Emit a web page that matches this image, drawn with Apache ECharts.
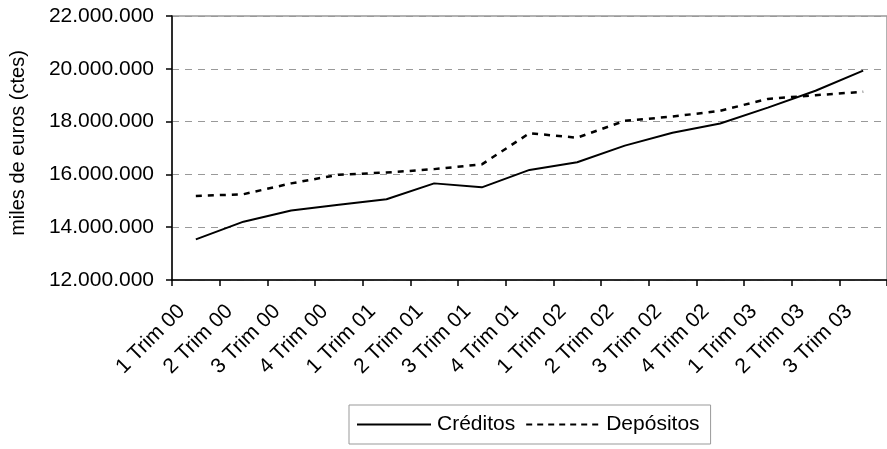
<!DOCTYPE html>
<html>
<head>
<meta charset="utf-8">
<script src="https://cdn.jsdelivr.net/npm/echarts@6/dist/echarts.min.js"></script>
<style>
html,body{margin:0;padding:0;background:#fff;}
#c{width:887px;height:449px;}
</style>
</head>
<body>
<div id="c"></div>
<script>
var categories = ['1 Trim 00','2 Trim 00','3 Trim 00','4 Trim 00','1 Trim 01','2 Trim 01','3 Trim 01','4 Trim 01','1 Trim 02','2 Trim 02','3 Trim 02','4 Trim 02','1 Trim 03','2 Trim 03','3 Trim 03'];
var creditos = [13540000,14210000,14630000,14850000,15060000,15660000,15510000,16170000,16460000,17090000,17580000,17930000,18530000,19170000,19930000];
var depositos = [15180000,15250000,15660000,15990000,16070000,16200000,16380000,17560000,17390000,18030000,18190000,18410000,18860000,19000000,19130000];
var yMin = 12000000, yMax = 22000000, yStep = 2000000;
var yAxisName = 'miles de euros (ctes)';
var seriesNames = ['Créditos','Depósitos'];

var FONT = 'Liberation Sans, Arial, sans-serif';
function fmt(v){ return String(Math.round(v)).replace(/\B(?=(\d{3})+(?!\d))/g, '.'); }

// legend icons (pure styling): solid bar and dashed bar
var ICON_W = 74;
var solidIcon = 'path://M0,0h' + ICON_W + 'v2h-' + ICON_W + 'z';
var dashPath = '';
for (var x = 0; x + 6 <= ICON_W + 0.1; x += 11) { dashPath += 'M' + x + ',0h6v2h-6z'; }
dashPath += 'M' + ICON_W + ',0v2';
var dashIcon = 'path://' + dashPath;

var chart = echarts.init(document.getElementById('c'), null, {renderer:'canvas'});
chart.setOption({
  animation:false,
  backgroundColor:'#fff',
  textStyle:{fontFamily:FONT},
  grid:{left:169, top:16, width:726, height:264, show:true, borderColor:'#999', borderWidth:1.5, backgroundColor:'transparent'},
  legend:{
    left:349, top:405,
    data:[{name:seriesNames[0], icon:solidIcon},{name:seriesNames[1], icon:dashIcon}],
    borderColor:'#999', borderWidth:1,
    padding:[9,11,9,8],
    itemWidth:ICON_W, itemHeight:2, itemGap:11,
    itemStyle:{color:'#000', borderWidth:0},
    textStyle:{fontSize:21, color:'#000', fontFamily:FONT, padding:[0,0,0,1], lineHeight:21}
  },
  xAxis:{
    type:'category',
    data:categories,
    boundaryGap:true,
    axisLine:{lineStyle:{color:'#000', width:1.5}},
    axisTick:{show:true, interval:0, length:6, lineStyle:{color:'#000', width:1.5}},
    axisLabel:{interval:0, rotate:45, fontSize:21, color:'#000', fontFamily:FONT, margin:14, padding:[0,20,0,0]},
    splitLine:{show:false}
  },
  yAxis:{
    type:'value',
    min:yMin, max:yMax, interval:yStep,
    name:yAxisName,
    nameLocation:'middle',
    nameGap:144,
    nameTextStyle:{fontSize:20, color:'#000', fontFamily:FONT, padding:[0,0,0,10]},
    axisLine:{show:true, lineStyle:{color:'#000', width:1.5}},
    axisTick:{show:true, length:6, lineStyle:{color:'#000', width:1.5}},
    axisLabel:{formatter:fmt, fontSize:21, color:'#000', fontFamily:FONT, margin:18},
    splitLine:{show:true, lineStyle:{color:'#999', type:[7,6], width:1.2}}
  },
  series:[
    {name:seriesNames[0], type:'line', data:creditos, symbol:'none',
     lineStyle:{color:'#000', width:2}, itemStyle:{color:'#000'}},
    {name:seriesNames[1], type:'line', data:depositos, symbol:'none',
     lineStyle:{color:'#000', width:2.5, type:[6,6]}, itemStyle:{color:'#000'}}
  ]
});
</script>
</body>
</html>
